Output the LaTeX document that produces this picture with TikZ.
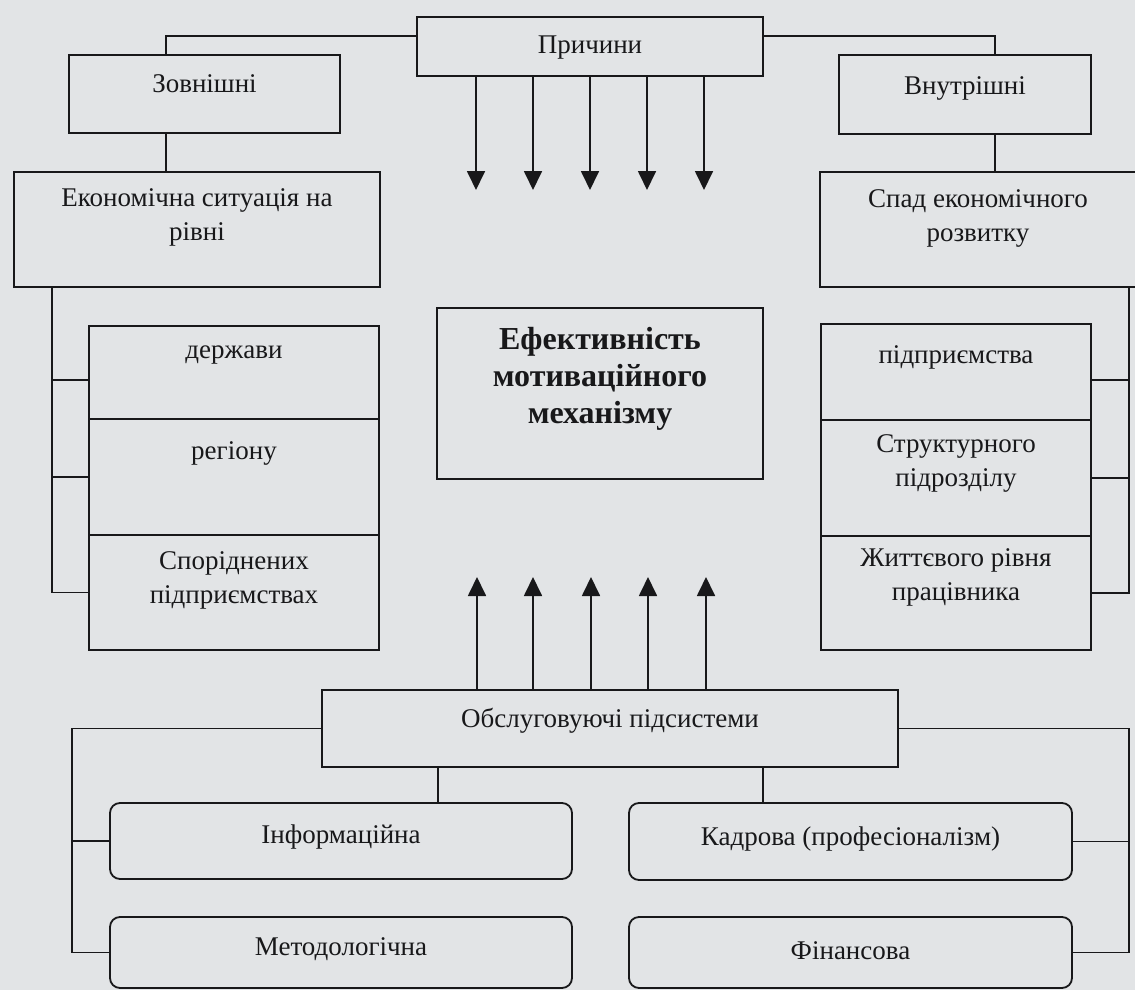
\documentclass[tikz,border=0pt]{standalone}
\usepackage{fontspec}
\setmainfont{Liberation Serif}
\usetikzlibrary{arrows.meta}
\definecolor{bg}{RGB}{226,228,230}
\definecolor{ink}{RGB}{24,24,26}
\begin{document}
\begin{tikzpicture}[x=1pt,y=-1pt,
  box/.style={draw=ink, line width=1.8pt, inner sep=0pt},
  rbox/.style={box, rounded corners=10pt},
  txt/.style={text=ink, align=center, inner sep=0pt, font=\fontsize{27}{34}\selectfont},
  btxt/.style={text=ink, align=center, inner sep=0pt, font=\fontsize{32}{37}\selectfont\bfseries},
  ln/.style={draw=ink, line width=1.8pt},
  arr/.style={ln, -{Triangle[length=19pt,width=18pt]}}]
\useasboundingbox (0,0) rectangle (1135,990);
\clip (0,0) rectangle (1135,990);
\fill[bg] (0,0) rectangle (1135,990);

% boxes
\node[box, minimum width=346pt, minimum height=59pt] (prich) at (590,46.5) {};
\node[box, minimum width=271pt, minimum height=78pt] (zov) at (204.5,94) {};
\node[box, minimum width=252pt, minimum height=79pt] (vnut) at (965,94.5) {};
\node[box, minimum width=366pt, minimum height=115pt] (econ) at (197,229.5) {};
\node[box, minimum width=320pt, minimum height=115pt] (spad) at (980,229.5) {};
\node[box, minimum width=326pt, minimum height=171pt] (cen) at (600,393.5) {};
\node[box, minimum width=290pt, minimum height=93pt] (der) at (234,372.5) {};
\node[box, minimum width=290pt, minimum height=116pt] (reg) at (234,477) {};
\node[box, minimum width=290pt, minimum height=115pt] (spor) at (234,592.5) {};
\node[box, minimum width=270pt, minimum height=96pt] (pidp) at (956,372) {};
\node[box, minimum width=270pt, minimum height=116pt] (strukt) at (956,478) {};
\node[box, minimum width=270pt, minimum height=114pt] (zhytt) at (956,593) {};
\node[box, minimum width=576pt, minimum height=77pt] (obsl) at (610,728.5) {};
\node[rbox, minimum width=462pt, minimum height=76pt] (inf) at (341,841) {};
\node[rbox, minimum width=462pt, minimum height=71pt] (met) at (341,952.5) {};
\node[rbox, minimum width=443pt, minimum height=77pt] (kadr) at (850.5,841.5) {};
\node[rbox, minimum width=443pt, minimum height=71pt] (fin) at (850.5,952.5) {};

% texts
\node[txt] (prich-t) at (590,48) {Причини};
\node[txt] (zov-t) at (204.5,84) {Зовнішні};
\node[txt] (vnut-t) at (965,88) {Внутрішні};
\node[txt] (econ-t) at (197,217) {Економічна ситуація на\\рівні};
\node[txt] (spad-t) at (978,218) {Спад економічного\\розвитку};
\node[btxt] (cen-t) at (600,379) {Ефективність\\мотиваційного\\механізму};
\node[txt] (der-t) at (234,355) {держави};
\node[txt] (reg-t) at (234,453) {регіону};
\node[txt] (spor-t) at (234,580) {Споріднених\\підприємствах};
\node[txt] (pidp-t) at (956,357) {підприємства};
\node[txt] (strukt-t) at (956,463) {Структурного\\підрозділу};
\node[txt] (zhytt-t) at (956,577) {Життєвого рівня\\працівника};
\node[txt] (obsl-t) at (610,721) {Обслуговуючі підсистеми};
\node[txt] (inf-t) at (341,837) {Інформаційна};
\node[txt] (met-t) at (341,949) {Методологічна};
\node[txt] (kadr-t) at (850.5,839) {Кадрова (професіоналізм)};
\node[txt] (fin-t) at (850.5,951) {Фінансова};

% helper coordinates
\coordinate (zt) at (166,0);
\coordinate (vt) at (995,0);
\coordinate (lb) at (52,0);
\coordinate (rb) at (1129,0);
\coordinate (bl) at (72,0);
\coordinate (br) at (1129,0);
\coordinate (ia) at (438,0);
\coordinate (ka) at (763,0);

% top connectors
\draw[ln] (zt |- zov.north) |- ([yshift=10.5pt]prich.west);
\draw[ln] ([yshift=10.5pt]prich.east) -| (vt |- vnut.north);
\draw[ln] (zt |- zov.south) -- (zt |- econ.north);
\draw[ln] (vt |- vnut.south) -- (vt |- spad.north);

% left bracket
\draw[ln] (lb |- econ.south) -- (lb |- spor.west) -- (spor.west);
\draw[ln] (lb |- reg.west) -- (reg.west);
\coordinate (dw) at ([yshift=-7.5pt]der.west);
\draw[ln] (lb |- dw) -- (dw);

% right bracket
\draw[ln] (rb |- spad.south) -- (rb |- zhytt.east) -- (zhytt.east);
\draw[ln] (rb |- strukt.east) -- (strukt.east);
\coordinate (pe) at ([yshift=-8pt]pidp.east);
\draw[ln] (rb |- pe) -- (pe);

% arrows
\foreach \x in {476,533,590,647,704} {
  \coordinate (ad) at (\x,190);
  \draw[arr] (prich.south -| ad) -- (ad);
}
\foreach \x in {477,533,591,648,706} {
  \coordinate (au) at (\x,577);
  \draw[arr] (obsl.north -| au) -- (au);
}

% bottom connectors
\draw[ln] (obsl.west) -| (bl |- met.west) -- (met.west);
\draw[ln] (bl |- inf.west) -- (inf.west);
\draw[ln] (obsl.east) -| (br |- fin.east) -- (fin.east);
\draw[ln] (br |- kadr.east) -- (kadr.east);
\draw[ln] (ia |- obsl.south) -- (ia |- inf.north);
\draw[ln] (ka |- obsl.south) -- (ka |- kadr.north);
\end{tikzpicture}
\end{document}
